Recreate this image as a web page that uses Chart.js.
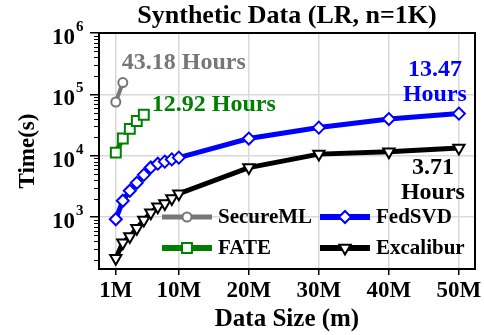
<!DOCTYPE html>
<html>
<head>
<meta charset="utf-8">
<script src="https://cdn.jsdelivr.net/npm/chart.js@4.4.1/dist/chart.umd.min.js"></script>
<style>
  html, body { margin: 0; padding: 0; background: #fff; }
</style>
</head>
<body>
<canvas id="chart" width="484" height="335"></canvas>
<script>
// data (x in millions of rows, y in seconds)
const seriesNames = ['SecureML', 'FATE', 'FedSVD', 'Excalibur'];
const secureX = [1, 2];
const secureY = [75000, 155448];
const fateX = [1, 2, 3, 4, 5];
const fateY = [11200, 19000, 27300, 36800, 46512];
const fedsvdX = [1, 2, 3, 4, 5, 6, 7, 8, 9, 10, 20, 30, 40, 50];
const fedsvdY = [920, 1840, 2680, 3610, 4870, 6430, 7400, 8000, 8700, 9300, 19000, 28700, 39500, 48492];
const excalX = [1, 2, 3, 4, 5, 6, 7, 8, 9, 10, 20, 30, 40, 50];
const excalY = [213, 380, 480, 655, 890, 1170, 1470, 1660, 2000, 2400, 6400, 10600, 11600, 13356];

const xTicks = [1, 10, 20, 30, 40, 50];
const xTickLabels = ['1M', '10M', '20M', '30M', '40M', '50M'];
const yTicks = [1e3, 1e4, 1e5, 1e6];
const yTickExps = ['3', '4', '5', '6'];
const hourNotes = [['43.18 Hours'], ['12.92 Hours'], ['13.47', 'Hours'], ['3.71', 'Hours']];
const chartTitle = 'Synthetic Data (LR, n=1K)';

const FONT = '"Liberation Serif", "Times New Roman", serif';
const colors = ['#777777', '#008000', '#0000ff', '#000000'];

const pts = (xs, ys) => xs.map((x, i) => ({ x: x, y: ys[i] }));

function makeSet(i, xs, ys, style, radius, rotation, width) {
  return {
    label: seriesNames[i],
    data: pts(xs, ys),
    borderColor: colors[i],
    backgroundColor: '#fff',
    borderWidth: width,
    pointStyle: style,
    pointRadius: radius,
    pointRotation: rotation,
    pointBorderWidth: 2,
    pointBackgroundColor: '#fff',
    pointBorderColor: colors[i],
    tension: 0,
    fill: false
  };
}

const datasets = [
  makeSet(0, secureX, secureY, 'circle', 4.5, 0, 4),
  makeSet(1, fateX, fateY, 'rect', 7, 0, 5),
  makeSet(2, fedsvdX, fedsvdY, 'rectRot', 6, 0, 5),
  makeSet(3, excalX, excalY, 'triangle', 6.5, 180, 5)
];

// text offsets from each series' last point
const noteOffsets = [[-1, -20], [8, -10], [-24, -44], [-26, 20]];
const noteAlign = ['left', 'left', 'center', 'center'];

function marker(ctx, ds, x, y) {
  ctx.fillStyle = '#fff';
  ctx.strokeStyle = ds.pointBorderColor;
  ctx.lineWidth = ds.pointBorderWidth;
  Chart.helpers.drawPoint(ctx, {
    pointStyle: ds.pointStyle,
    radius: ds.pointRadius,
    rotation: ds.pointRotation,
    borderWidth: ds.pointBorderWidth
  }, x, y);
}

const decor = {
  id: 'decor',
  beforeDatasetsDraw(chart) {
    const { ctx, chartArea: a, scales: { y } } = chart;
    ctx.save();
    ctx.strokeStyle = '#000';
    ctx.lineWidth = 1;
    for (let d = 100; d < 1e6; d *= 10) {
      for (let k = 2; k <= 9; k++) {
        const v = d * k;
        if (v < y.min || v > y.max) continue;
        const py = Math.round(y.getPixelForValue(v)) + 0.5;
        ctx.beginPath();
        ctx.moveTo(a.left - 5, py);
        ctx.lineTo(a.left, py);
        ctx.stroke();
      }
    }
    ctx.lineWidth = 2;
    ctx.strokeRect(a.left, a.top, a.right - a.left, a.bottom - a.top);
    ctx.restore();
  },
  afterDraw(chart) {
    const { ctx, chartArea: a, scales: { x, y } } = chart;
    ctx.save();
    // title centred over the plot area
    ctx.fillStyle = '#000';
    ctx.font = 'bold 26px ' + FONT;
    ctx.textAlign = 'center';
    ctx.textBaseline = 'middle';
    ctx.fillText(chartTitle, (a.left + a.right) / 2, 16);

    // y tick labels as 10 with a raised exponent
    yTicks.forEach((v, i) => {
      const py = y.getPixelForValue(v);
      ctx.font = 'bold 23px ' + FONT;
      ctx.textAlign = 'right';
      ctx.textBaseline = 'alphabetic';
      ctx.fillText('10', 75, py + 11);
      ctx.font = 'bold 15px ' + FONT;
      ctx.textAlign = 'left';
      ctx.fillText(yTickExps[i], 76, py - 2);
    });

    // legend inside the plot, two columns
    const cols = [a.left + 63, a.left + 221];
    const rows = [217, 248];
    datasets.forEach((ds, i) => {
      const lx = cols[i < 2 ? 0 : 1];
      const ly = rows[i % 2];
      ctx.strokeStyle = ds.borderColor;
      ctx.lineWidth = ds.borderWidth + 1;
      ctx.beginPath();
      ctx.moveTo(lx, ly);
      ctx.lineTo(lx + 50, ly);
      ctx.stroke();
      marker(ctx, ds, lx + 25, ly);
      ctx.fillStyle = '#000';
      ctx.font = 'bold 21px ' + FONT;
      ctx.textAlign = 'left';
      ctx.textBaseline = 'middle';
      ctx.fillText(ds.label, lx + 56, ly + 1);
    });

    // hour notes next to the last points
    datasets.forEach((ds, i) => {
      const last = ds.data[ds.data.length - 1];
      const px = x.getPixelForValue(last.x) + noteOffsets[i][0];
      const py = y.getPixelForValue(last.y) + noteOffsets[i][1];
      ctx.fillStyle = colors[i];
      ctx.font = 'bold 24px ' + FONT;
      ctx.textAlign = noteAlign[i];
      ctx.textBaseline = 'middle';
      hourNotes[i].forEach((line, j) => ctx.fillText(line, px, py + j * 25));
    });
    ctx.restore();
  }
};

new Chart(document.getElementById('chart'), {
  type: 'line',
  data: { datasets: datasets },
  options: {
    responsive: false,
    animation: false,
    devicePixelRatio: 1,
    layout: { padding: { left: 0, right: 7, top: 33, bottom: 0 } },
    plugins: {
      legend: { display: false },
      tooltip: { enabled: false },
      title: { display: false }
    },
    scales: {
      x: {
        type: 'linear',
        min: -1.4,
        max: 52.3,
        afterBuildTicks: (s) => { s.ticks = xTicks.map(v => ({ value: v })); },
        afterFit: (s) => { s.height = 66; },
        ticks: {
          autoSkip: false,
          maxRotation: 0,
          color: '#000',
          padding: 2,
          font: { family: FONT, size: 23, weight: 'bold' },
          callback: (v) => xTickLabels[xTicks.indexOf(v)]
        },
        grid: { color: '#d9d9d9', lineWidth: 1.5, tickColor: '#000', tickLength: 6, tickWidth: 1.5 },
        border: { display: true, color: '#000', width: 2 },
        title: {
          display: true,
          text: 'Data Size (m)',
          color: '#000',
          font: { family: FONT, size: 25, weight: 'bold', lineHeight: 1.2 },
          padding: { top: 0, bottom: 0 }
        }
      },
      y: {
        type: 'logarithmic',
        min: 142,
        max: 1e6,
        afterBuildTicks: (s) => { s.ticks = yTicks.map(v => ({ value: v })); },
        afterFit: (s) => { s.width = 99; },
        ticks: { display: false },
        grid: { color: '#d9d9d9', lineWidth: 1.5, tickColor: '#000', tickLength: 9, tickWidth: 1.5 },
        border: { display: true, color: '#000', width: 2 },
        title: {
          display: true,
          text: 'Time(s)',
          color: '#000',
          font: { family: FONT, size: 23, weight: 'bold', lineHeight: 1.2 },
          padding: { top: 14, bottom: 0 }
        }
      }
    }
  },
  plugins: [decor]
});
</script>
</body>
</html>
